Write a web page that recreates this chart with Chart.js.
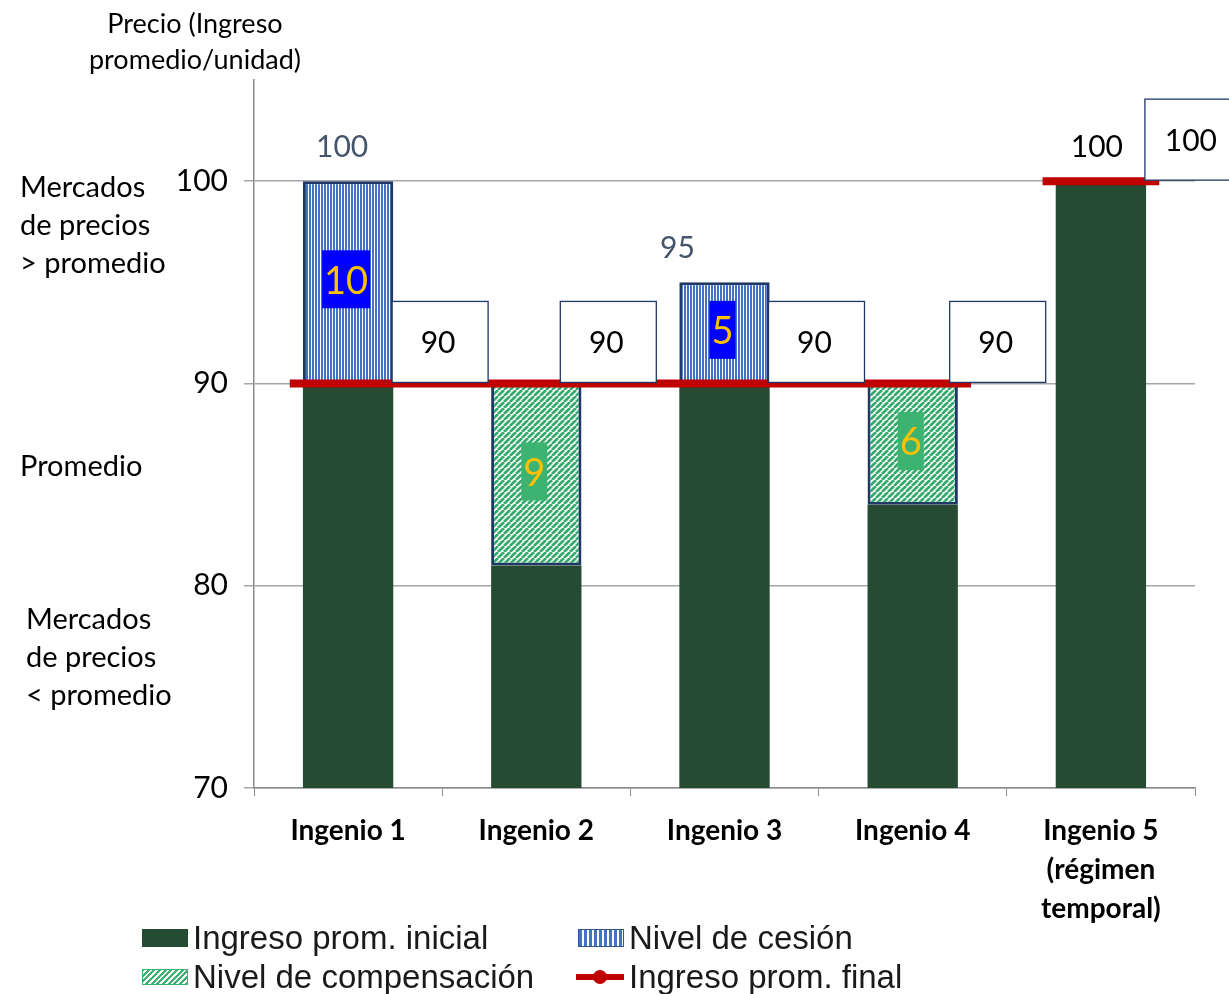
<!DOCTYPE html>
<html>
<head>
<meta charset="utf-8">
<script src="https://cdn.jsdelivr.net/npm/chart.js@4"></script>
<style>
    body { margin: 0; background: #fff; }
    #wrap { position: relative; width: 1229px; height: 994px; overflow: hidden; font-family: Lato, sans-serif; }
    #chart { position: absolute; left: 0; top: 0; }
    .note { position: absolute; font-size: 29px; line-height: 38px; color: #000; white-space: nowrap; }
    .title { position: absolute; left: 60px; width: 270px; top: 5px; text-align: center; font-size: 27px; line-height: 36px; }
    .legend { position: absolute; font-family: "Liberation Sans", Arial, sans-serif; font-size: 33px; color: #1a1a1a; white-space: nowrap; display: flex; align-items: center; height: 38px; }
    .sw { width: 46px; height: 18px; margin-right: 5px; box-sizing: border-box; }
</style>
</head>
<body>
<div id="wrap">
    <canvas id="chart" width="1229" height="994"></canvas>
    <div class="title">Precio (Ingreso<br>promedio/unidad)</div>
    <div class="note" style="left:20px; top:167px;">Mercados<br>de precios<br>&gt; promedio</div>
    <div class="note" style="left:20px; top:446px;">Promedio</div>
    <div class="note" style="left:26px; top:599px;">Mercados<br>de precios<br>&lt; promedio</div>

    <div class="legend" style="left:142px; top:919px;">
        <div class="sw" style="background:#264b33;"></div>Ingreso prom. inicial
    </div>
    <div class="legend" style="left:578px; top:919px;">
        <div class="sw" style="border:1px solid #2f5597; background:repeating-linear-gradient(90deg, #4472c4 0 3px, #fff 3px 5px);"></div>Nivel de cesión
    </div>
    <div class="legend" style="left:142px; top:958px;">
        <div class="sw" style="height:16px; border:1px solid #3cb371; background:repeating-linear-gradient(-45deg, #3cb371 0 2px, #fff 2px 4px);"></div>Nivel de compensación
    </div>
    <div class="legend" style="left:576px; top:958px;">
        <div class="sw" style="width:48px; height:14px; position:relative;">
            <div style="position:absolute; left:0; right:0; top:4px; height:6px; background:#c00000;"></div>
            <div style="position:absolute; left:17px; top:0; width:14px; height:14px; border-radius:50%; background:#c00000;"></div>
        </div>Ingreso prom. final
    </div>
</div>

<script>
const categories = [['Ingenio 1'], ['Ingenio 2'], ['Ingenio 3'], ['Ingenio 4'], ['Ingenio 5', '(régimen', 'temporal)']];
const axisBase = 70;
const initialValues = [100, 81, 95, 84, 100];
const finalValues = [90, 90, 90, 90, 100];
const cesionValues = [10, 0, 5, 0, 0];
const compensacionValues = [0, 9, 0, 6, 0];
const yTicks = [70, 80, 90, 100];

// floating bars built from the values above
const baseBars = initialValues.map((v, i) => [axisBase, Math.min(v, finalValues[i])]);
const cesionBars = cesionValues.map((v, i) => v > 0 ? [finalValues[i], finalValues[i] + v] : null);
const compBars = compensacionValues.map((v, i) => v > 0 ? [finalValues[i] - v, finalValues[i]] : null);

// red line: one flat piece per run of equal final values, a bit wider than the bars
const overhang = 0.31;
const finalLine = [];
let start = 0;
for (let i = 1; i <= finalValues.length; i++) {
    if (i === finalValues.length || finalValues[i] !== finalValues[start]) {
        if (finalLine.length) finalLine.push({ x: start - 0.5, y: null });
        finalLine.push({ x: start - overhang, y: finalValues[start] });
        finalLine.push({ x: i - 1 + overhang, y: finalValues[start] });
        start = i;
    }
}

function makePattern(size, draw) {
    const c = document.createElement('canvas');
    c.width = size; c.height = size;
    const g = c.getContext('2d');
    g.fillStyle = '#fff';
    g.fillRect(0, 0, size, size);
    draw(g);
    return document.getElementById('chart').getContext('2d').createPattern(c, 'repeat');
}
const bluePattern = makePattern(3, g => {
    g.fillStyle = '#4472c4';
    g.fillRect(0, 0, 2, 3);
});
const greenPattern = makePattern(6, g => {
    g.strokeStyle = '#34ab6c';
    g.lineWidth = 2.7;
    g.beginPath();
    [-6, 0, 6].forEach(k => { g.moveTo(k, 6); g.lineTo(k + 6, 0); });
    g.stroke();
});

const labelsPlugin = {
    id: 'labelsPlugin',
    afterDatasetsDraw(chart) {
        const ctx = chart.ctx;
        const x = chart.scales.x, y = chart.scales.y;
        ctx.save();
        ctx.textAlign = 'center';
        ctx.textBaseline = 'middle';

        // numbers inside the hatched pieces
        ctx.font = '38px Lato';
        [[cesionBars, cesionValues, '#0000ff'], [compBars, compensacionValues, '#3cb371']].forEach(([bars, vals, bg]) => {
            bars.forEach((b, i) => {
                if (!b) return;
                const txt = String(vals[i]);
                const cy = y.getPixelForValue((b[0] + b[1]) / 2) - 2;
                const cx = x.getPixelForValue(i) - 2;
                const w = ctx.measureText(txt).width + 4;
                ctx.fillStyle = bg;
                ctx.fillRect(cx - w / 2, cy - 30, w, 58);
                ctx.fillStyle = '#ffc000';
                ctx.fillText(txt, cx, cy + 1);
            });
        });

        // totals above the bars
        const topShift = [-6, 0, -47, 0, -4];
        ctx.font = '30px Lato';
        initialValues.forEach((v, i) => {
            if (v < finalValues[i]) return;
            ctx.fillStyle = cesionValues[i] ? '#44546a' : '#000';
            ctx.fillText(String(v), x.getPixelForValue(i) + topShift[i], y.getPixelForValue(v) - 34);
        });

        // boxed final values to the right of each bar
        const boxShift = [44, 24, 44, 37, 44];
        finalValues.forEach((v, i) => {
            const left = x.getPixelForValue(i) + boxShift[i];
            const bottom = y.getPixelForValue(v) - 1;
            ctx.fillStyle = '#fff';
            ctx.fillRect(left, bottom - 81, 96, 81);
            ctx.strokeStyle = '#1f3864';
            ctx.lineWidth = 1.3;
            ctx.strokeRect(left, bottom - 81, 96, 81);
            ctx.fillStyle = '#000';
            ctx.fillText(String(v), left + 46, bottom - 39);
        });
        ctx.restore();
    }
};

Chart.defaults.font.family = 'Lato';
Chart.defaults.color = '#000';

new Chart(document.getElementById('chart'), {
    type: 'bar',
    data: {
        labels: categories,
        datasets: [
            {
                type: 'line',
                label: 'Ingreso prom. final',
                data: finalLine,
                xAxisID: 'xl',
                borderColor: '#c00000',
                borderWidth: 8,
                borderCapStyle: 'butt',
                pointRadius: 0,
                spanGaps: false,
                order: -1
            },
            {
                label: 'Ingreso prom. inicial',
                data: baseBars,
                backgroundColor: '#264b33'
            },
            {
                label: 'Nivel de cesión',
                data: cesionBars,
                backgroundColor: bluePattern,
                borderColor: '#1f3864',
                borderWidth: 3,
                borderSkipped: false
            },
            {
                label: 'Nivel de compensación',
                data: compBars,
                backgroundColor: greenPattern,
                borderColor: '#1f3864',
                borderWidth: 3,
                borderSkipped: false
            }
        ]
    },
    options: {
        responsive: false,
        animation: false,
        layout: { padding: { top: 80, right: 34, left: 0, bottom: 0 } },
        datasets: { bar: { barPercentage: 0.48, categoryPercentage: 1, grouped: false } },
        plugins: { legend: { display: false }, tooltip: { enabled: false } },
        scales: {
            x: {
                grid: { drawOnChartArea: false, tickLength: 8, color: '#8c8c8c' },
                border: { color: '#8c8c8c', width: 1.5 },
                ticks: { font: { size: 28, weight: 'bold', lineHeight: 1.39 }, padding: 16, maxRotation: 0 },
                afterFit(scale) { scale.height = 206; }
            },
            xl: {
                type: 'linear',
                display: false,
                offset: false,
                min: -0.5,
                max: 4.5
            },
            y: {
                min: 70,
                max: 105,
                afterBuildTicks(scale) { scale.ticks = yTicks.map(v => ({ value: v })); },
                grid: { color: '#a6a6a6', lineWidth: 1.5, tickLength: 10 },
                border: { color: '#8c8c8c', width: 1.5 },
                ticks: { font: { size: 30 }, padding: 16 },
                afterFit(scale) { scale.width = 254; }
            }
        }
    },
    plugins: [labelsPlugin]
});
</script>
</body>
</html>
